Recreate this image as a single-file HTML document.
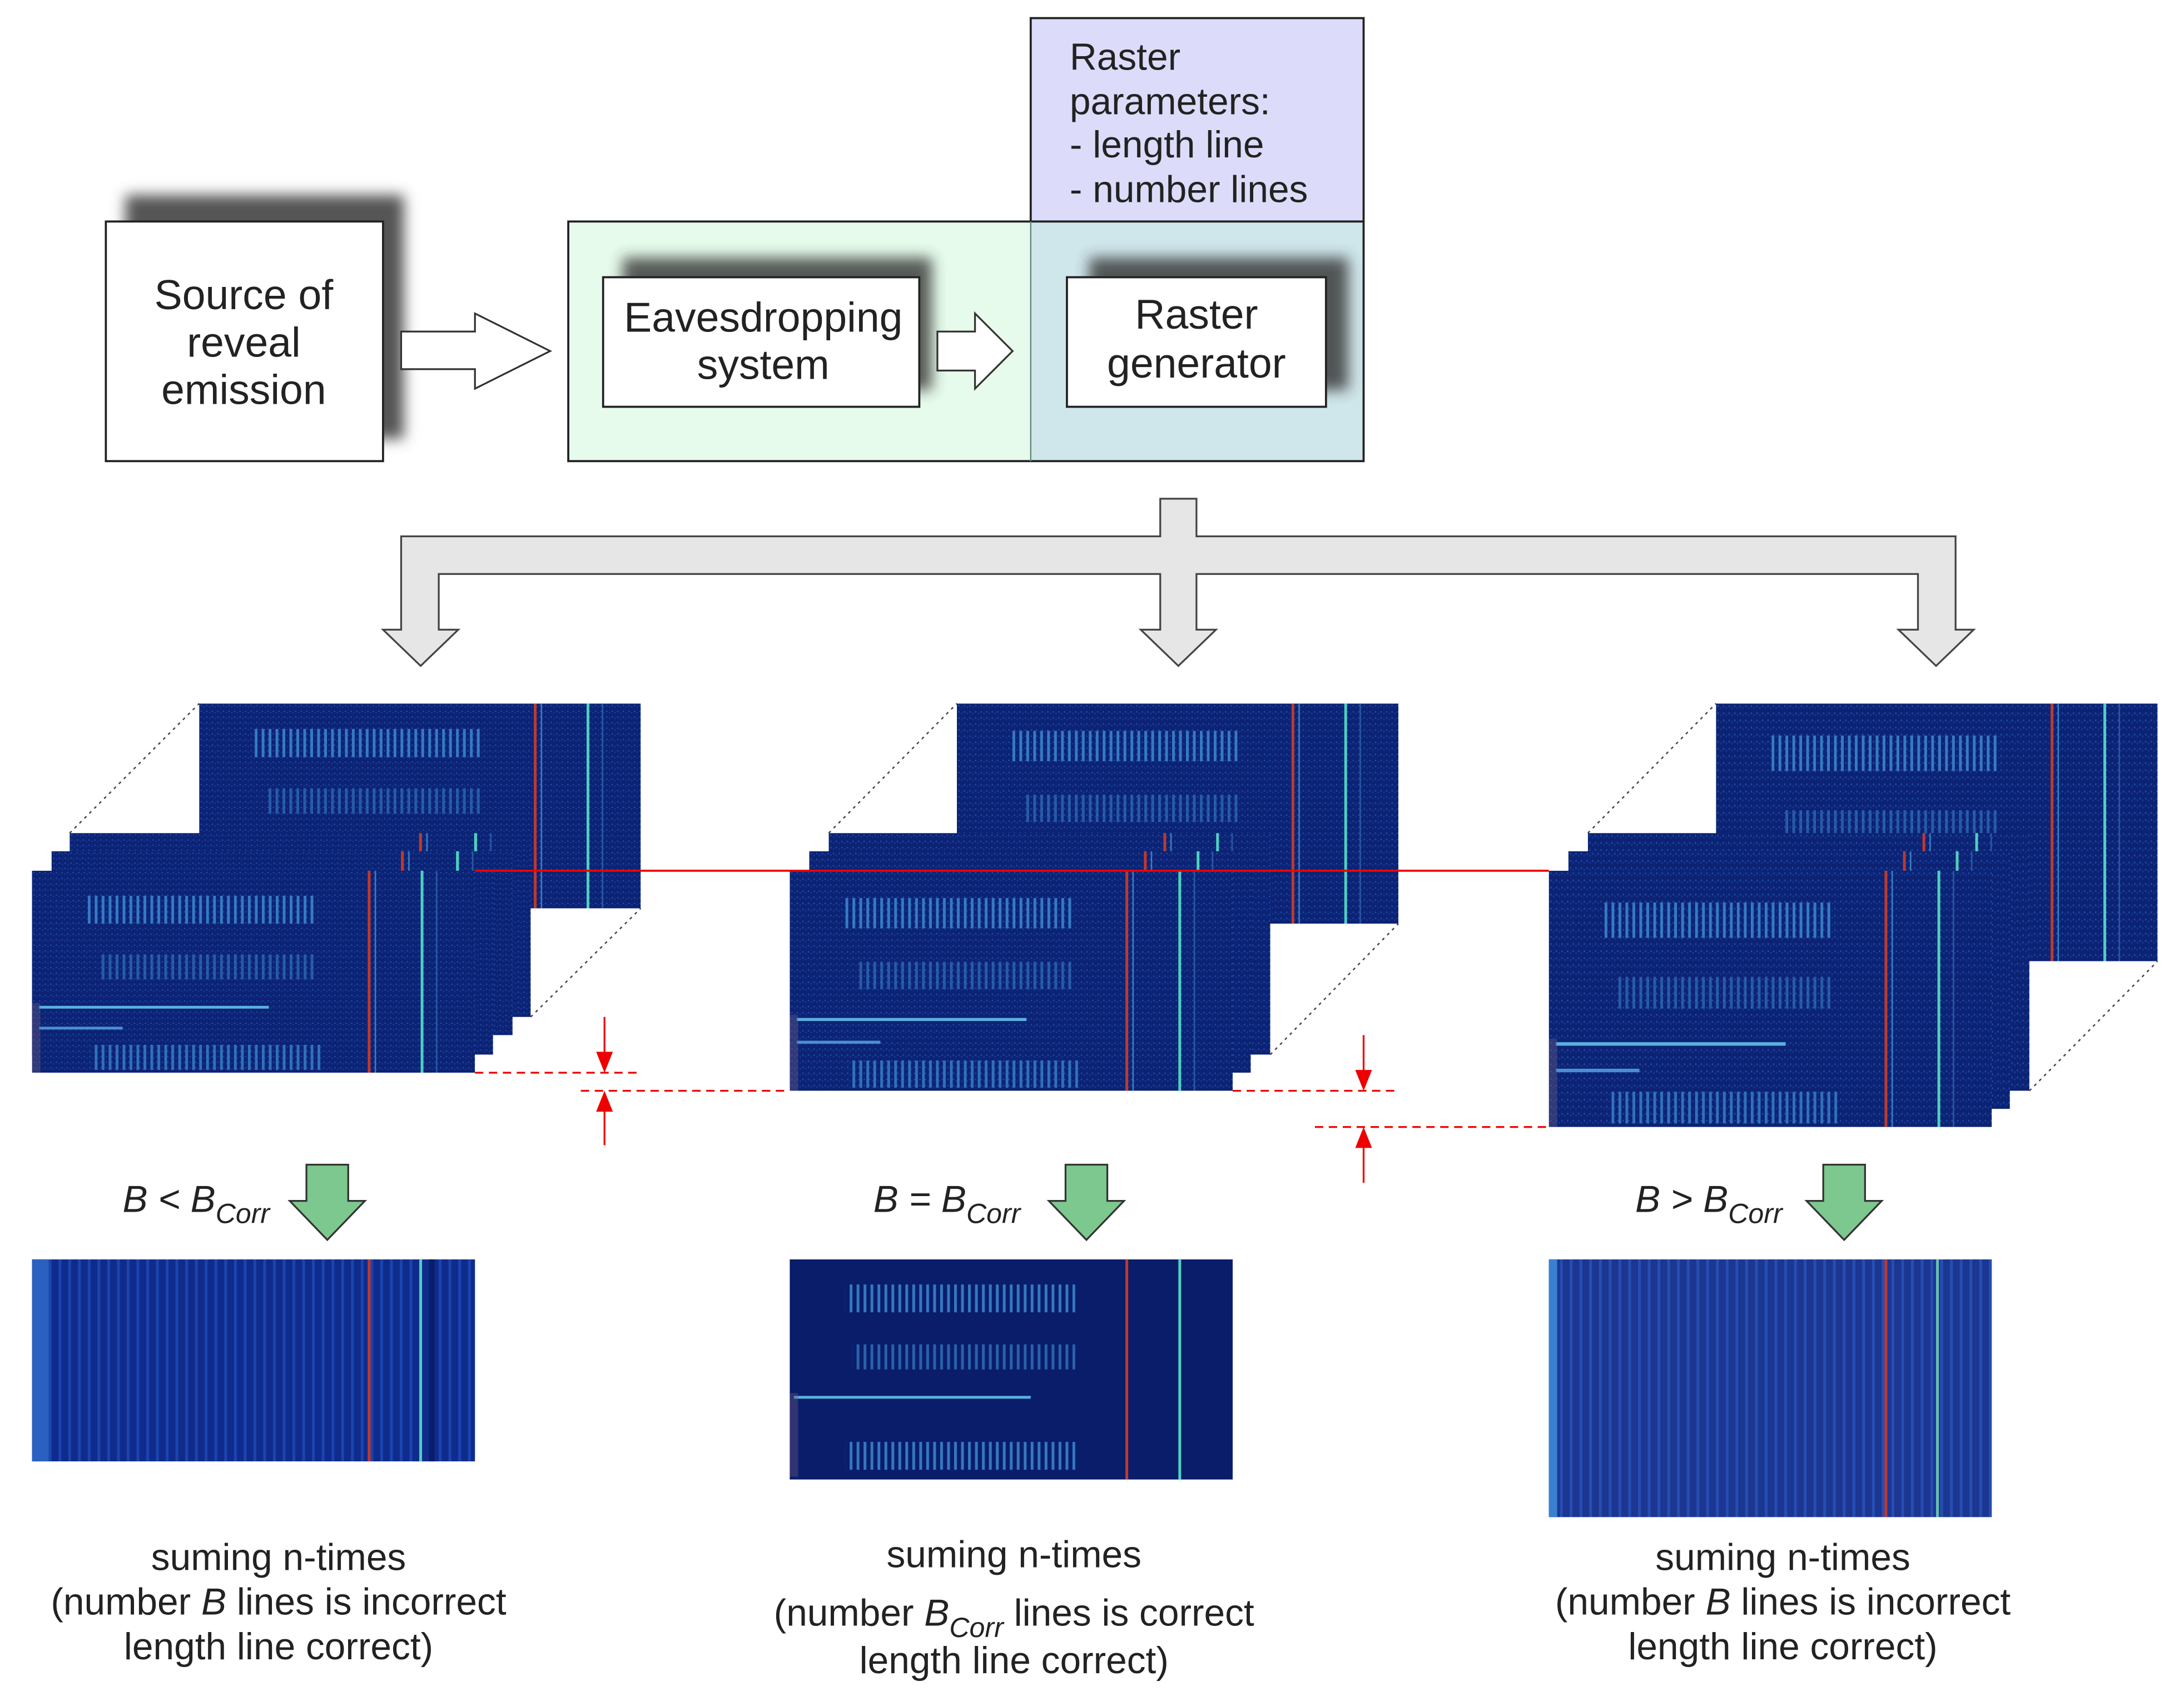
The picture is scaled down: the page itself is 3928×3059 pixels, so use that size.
<!DOCTYPE html>
<html><head><meta charset="utf-8"><style>html,body{margin:0;padding:0;background:#fff}svg{display:block}</style></head><body>
<svg xmlns="http://www.w3.org/2000/svg" width="3928" height="3059" viewBox="0 0 1568 1221" preserveAspectRatio="none" font-family="Liberation Sans, sans-serif">
<defs>
<filter id="bl" x="-20%" y="-20%" width="140%" height="140%"><feGaussianBlur stdDeviation="5"/></filter>
<pattern id="tk" width="5" height="10" patternUnits="userSpaceOnUse"><rect x="0" y="0" width="2" height="10" fill="#3f8fd6"/></pattern>
<pattern id="nz" width="4" height="4" patternUnits="userSpaceOnUse"><rect width="4" height="4" fill="#0c2374"/><rect x="1" y="1" width="1" height="1" fill="#1e4aa8"/><rect x="3" y="2" width="1" height="1" fill="#16389a"/></pattern>
<pattern id="st" width="7" height="10" patternUnits="userSpaceOnUse"><rect width="7" height="10" fill="#0f2c8c"/><rect x="0" width="2" height="10" fill="#1c44b0"/></pattern>
<symbol id="ras" viewBox="0 0 318 145" preserveAspectRatio="none">
<rect width="318" height="145" fill="url(#nz)"/>
<rect x="40" y="18" width="165" height="20" fill="url(#tk)" opacity="0.8"/>
<rect x="48" y="60" width="155" height="18" fill="url(#tk)" opacity="0.5"/>
<rect x="42" y="125" width="165" height="18" fill="url(#tk)" opacity="0.7"/>
<rect x="5" y="97" width="165" height="2" fill="#5ab0e0"/>
<rect x="5" y="112" width="60" height="2" fill="#4a90d0"/>
<rect x="0" y="95" width="6" height="50" fill="#6a5a80" opacity="0.4"/>
<rect x="241" y="0" width="2" height="145" fill="#c0392b"/>
<rect x="246" y="0" width="1" height="145" fill="#3a80c0"/>
<rect x="279" y="0" width="2" height="145" fill="#4fd0c0"/>
<rect x="290" y="0" width="1" height="145" fill="#2a5aa0"/>
</symbol>
</defs>

<rect x="90" y="140" width="200" height="175" fill="#555" filter="url(#bl)"/>
<rect x="76" y="159" width="199" height="172" fill="#fff" stroke="#222" stroke-width="1.5"/>
<text font-size="30" text-anchor="middle" fill="#222"><tspan x="175" y="222">Source of</tspan><tspan x="175" y="256">reveal</tspan><tspan x="175" y="290">emission</tspan></text>
<polygon points="288,238 341,238 341,225 395,252 341,279 341,265 288,265" fill="#fff" stroke="#333" stroke-width="1.3"/>

<rect x="740" y="13" width="239" height="146" fill="#dcdcfa" stroke="#222" stroke-width="1.5"/>
<text font-size="27" fill="#222"><tspan x="768" y="50">Raster</tspan><tspan x="768" y="82">parameters:</tspan><tspan x="768" y="113">- length line</tspan><tspan x="768" y="145">- number lines</tspan></text>
<rect x="408" y="159" width="332" height="172" fill="#e6fbec"/>
<rect x="740" y="159" width="239" height="172" fill="#cfe6ea"/>
<rect x="408" y="159" width="571" height="172" fill="none" stroke="#222" stroke-width="1.5"/>
<line x1="740" y1="159" x2="740" y2="331" stroke="#6a8a80" stroke-width="1"/>

<rect x="447" y="185" width="222" height="95" fill="#333" filter="url(#bl)" opacity="0.8"/>
<rect x="433" y="199" width="227" height="93" fill="#fff" stroke="#222" stroke-width="1.5"/>
<text font-size="30" text-anchor="middle" fill="#222"><tspan x="548" y="238">Eavesdropping</tspan><tspan x="548" y="272">system</tspan></text>
<polygon points="673,238 700,238 700,225 727,252 700,279 700,266 673,266" fill="#fff" stroke="#333" stroke-width="1.3"/>
<rect x="782" y="185" width="186" height="95" fill="#333" filter="url(#bl)" opacity="0.8"/>
<rect x="766" y="199" width="186" height="93" fill="#fff" stroke="#222" stroke-width="1.5"/>
<text font-size="30" text-anchor="middle" fill="#222"><tspan x="859" y="236">Raster</tspan><tspan x="859" y="271">generator</tspan></text>

<path d="M833,358 H859 V385 H1404 V452 H1417 L1390,478 L1363,452 H1377 V412 H859 V452 H873 L846,478 L819,452 H833 V412 H315 V452 H329 L302,478 L275,452 H288 V385 H833 Z" fill="#e6e6e6" stroke="#444" stroke-width="1.3"/>

<g stroke="#444" stroke-width="1" stroke-dasharray="2,3" fill="none">
<line x1="50" y1="598" x2="143" y2="505"/><line x1="381" y1="730" x2="460" y2="652"/>
<line x1="595" y1="598" x2="687" y2="505"/><line x1="912" y1="757" x2="1004" y2="663"/>
<line x1="1140" y1="598" x2="1232" y2="505"/><line x1="1457" y1="783" x2="1549" y2="690"/>
</g>
<use href="#ras" x="143" y="505" width="317" height="147"/>
<use href="#ras" x="50" y="598" width="331" height="132"/>
<use href="#ras" x="37" y="611" width="331" height="132"/>
<use href="#ras" x="23" y="625" width="331" height="132"/>
<use href="#ras" x="23" y="625" width="318" height="145"/>
<use href="#ras" x="687" y="505" width="317" height="158"/>
<use href="#ras" x="595" y="598" width="317" height="159"/>
<use href="#ras" x="581" y="611" width="317" height="159"/>
<use href="#ras" x="567" y="625" width="318" height="158"/>
<use href="#ras" x="1232" y="505" width="317" height="185"/>
<use href="#ras" x="1140" y="598" width="317" height="185"/>
<use href="#ras" x="1126" y="611" width="317" height="185"/>
<use href="#ras" x="1112" y="625" width="318" height="184"/>

<line x1="341" y1="625" x2="1112" y2="625" stroke="#e00" stroke-width="1.5"/>
<g stroke="#e00" stroke-width="1.3" stroke-dasharray="6,4">
<line x1="341" y1="770" x2="460" y2="770"/><line x1="417" y1="783" x2="567" y2="783"/>
<line x1="885" y1="783" x2="1004" y2="783"/><line x1="944" y1="809" x2="1112" y2="809"/>
</g>
<g stroke="#e00" stroke-width="1.3">
<line x1="434" y1="730" x2="434" y2="762"/><line x1="434" y1="791" x2="434" y2="822"/>
<line x1="979" y1="743" x2="979" y2="775"/><line x1="979" y1="817" x2="979" y2="849"/>
</g>
<g fill="#e00">
<polygon points="428,755 440,755 434,770"/><polygon points="428,798 440,798 434,783"/>
<polygon points="973,768 985,768 979,783"/><polygon points="973,824 985,824 979,809"/>
</g>

<g fill="#7cc88e" stroke="#333" stroke-width="1.3">
<polygon points="220,836 250,836 250,862 262,862 235,890 208,862 220,862"/>
<polygon points="765,836 795,836 795,862 807,862 780,890 753,862 765,862"/>
<polygon points="1309,836 1339,836 1339,862 1351,862 1324,890 1297,862 1309,862"/>
</g>
<g font-size="27" font-style="italic" fill="#222">
<text x="88" y="870">B &lt; B<tspan font-size="20" dy="8">Corr</tspan></text>
<text x="627" y="870">B = B<tspan font-size="20" dy="8">Corr</tspan></text>
<text x="1174" y="870">B &gt; B<tspan font-size="20" dy="8">Corr</tspan></text>
</g>

<rect x="23" y="904" width="318" height="145" fill="url(#st)"/>
<rect x="23" y="904" width="12" height="145" fill="#2a60c0"/>
<rect x="264" y="904" width="2" height="145" fill="#c0392b"/><rect x="301" y="904" width="2" height="145" fill="#4fd0c0"/><rect x="308" y="904" width="4" height="145" fill="#0a1d6a"/>
<rect x="567" y="904" width="318" height="158" fill="#0a1d6a"/>
<rect x="607" y="922" width="165" height="20" fill="url(#tk)" opacity="0.8"/>
<rect x="612" y="965" width="160" height="18" fill="url(#tk)" opacity="0.6"/>
<rect x="607" y="1035" width="165" height="20" fill="url(#tk)" opacity="0.8"/>
<rect x="570" y="1002" width="170" height="2" fill="#5ab0e0"/>
<rect x="567" y="1000" width="6" height="60" fill="#6a5a80" opacity="0.4"/>
<rect x="808" y="904" width="2" height="158" fill="#c0392b"/><rect x="846" y="904" width="2" height="158" fill="#4fd0c0"/>
<rect x="1112" y="904" width="318" height="185" fill="url(#st)" opacity="0.95"/>
<rect x="1112" y="904" width="6" height="185" fill="#3a80d0"/>
<rect x="1353" y="904" width="2" height="185" fill="#c0392b"/><rect x="1390" y="904" width="2" height="185" fill="#6ac0b0"/>

<g font-size="27" text-anchor="middle" fill="#222">
<text x="200" y="1127">suming n-times</text>
<text x="200" y="1159">(number <tspan font-style="italic">B</tspan> lines is incorrect</text>
<text x="200" y="1191">length line correct)</text>
<text x="728" y="1125">suming n-times</text>
<text x="728" y="1167">(number <tspan font-style="italic">B<tspan font-size="20" dy="8">Corr</tspan></tspan><tspan dy="-8"> lines is correct</tspan></text>
<text x="728" y="1201">length line correct)</text>
<text x="1280" y="1127">suming n-times</text>
<text x="1280" y="1159">(number <tspan font-style="italic">B</tspan> lines is incorrect</text>
<text x="1280" y="1191">length line correct)</text>
</g>
</svg>
</body></html>
